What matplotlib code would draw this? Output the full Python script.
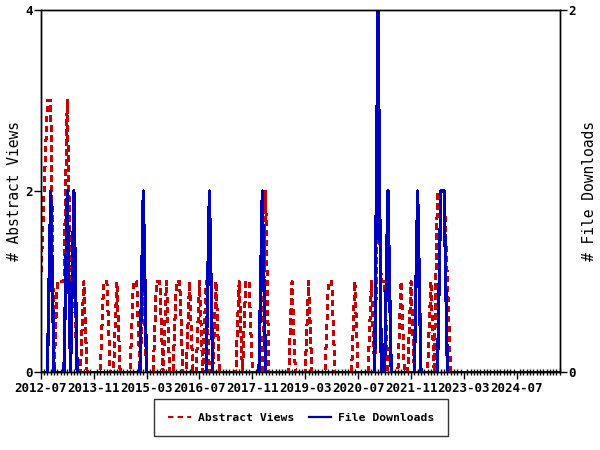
import pandas as pd
import matplotlib
matplotlib.use('Agg')
import matplotlib.pyplot as plt
from matplotlib.ticker import FixedLocator, MultipleLocator

# monthly data, 2012-07 .. 2025-08
months = pd.date_range('2012-07-01', periods=158, freq='MS')

abstract_views = [
    1, 2, 3, 3, 0, 1, 1, 1, 3, 1, 1, 0, 0, 1, 0, 0,
    0, 0, 0, 1, 1, 0, 0, 1, 0, 0, 0, 0, 1, 1, 0, 1,
    0, 0, 0, 1, 1, 0, 1, 0, 0, 1, 1, 0, 0, 1, 0, 0,
    1, 0, 1, 0, 0, 1, 0, 0, 0, 0, 0, 0, 1, 0, 1, 1,
    0, 0, 0, 0, 2, 0, 0, 0, 0, 0, 0, 0, 1, 0, 0, 0,
    0, 1, 0, 0, 0, 0, 0, 1, 1, 0, 0, 0, 0, 0, 0, 1,
    0, 0, 0, 0, 1, 0, 2, 1, 1, 0, 0, 0, 0, 1, 0, 0,
    1, 0, 0, 0, 0, 0, 1, 0, 2, 2, 2, 1, 0, 0, 0, 0,
    0, 0, 0, 0, 0, 0, 0, 0, 0, 0, 0, 0, 0, 0, 0, 0,
    0, 0, 0, 0, 0, 0, 0, 0, 0, 0, 0, 0, 0, 0,
]

file_downloads = [
    0, 0, 0, 1, 0, 0, 0, 0, 1, 0, 1, 0, 0, 0, 0, 0,
    0, 0, 0, 0, 0, 0, 0, 0, 0, 0, 0, 0, 0, 0, 0, 1,
    0, 0, 0, 0, 0, 0, 0, 0, 0, 0, 0, 0, 0, 0, 0, 0,
    0, 0, 0, 1, 0, 0, 0, 0, 0, 0, 0, 0, 0, 0, 0, 0,
    0, 0, 0, 1, 0, 0, 0, 0, 0, 0, 0, 0, 0, 0, 0, 0,
    0, 0, 0, 0, 0, 0, 0, 0, 0, 0, 0, 0, 0, 0, 0, 0,
    0, 0, 0, 0, 0, 0, 2, 0, 0, 1, 0, 0, 0, 0, 0, 0,
    0, 0, 1, 0, 0, 0, 0, 0, 0, 1, 1, 0, 0, 0, 0, 0,
    0, 0, 0, 0, 0, 0, 0, 0, 0, 0, 0, 0, 0, 0, 0, 0,
    0, 0, 0, 0, 0, 0, 0, 0, 0, 0, 0, 0, 0, 0,
]

tick_labels = ['2012-07', '2013-11', '2015-03', '2016-07', '2017-11',
               '2019-03', '2020-07', '2021-11', '2023-03', '2024-07']

red = '#CC0000'
blue = '#0000C0'
mono = 'DejaVu Sans Mono'

x = list(range(len(months)))
tick_pos = [i for i, m in enumerate(months) if m.strftime('%Y-%m') in tick_labels]

fig = plt.figure(figsize=(6, 4.5), dpi=100)
ax = fig.add_axes([0.068, 0.173, 0.865, 0.805])
ax2 = ax.twinx()

l1, = ax.plot(x, abstract_views, color=red, lw=1.5,
              linestyle=(0, (2.6, 2.0)), antialiased=False,
              label='Abstract Views')
l2, = ax2.plot(x, file_downloads, color=blue, lw=1.6,
               antialiased=False, label='File Downloads')

ax.set_xlim(0, len(months) - 1)
ax.set_ylim(0, 4)
ax2.set_ylim(0, 2)

ax.xaxis.set_major_locator(FixedLocator(tick_pos))
ax.set_xticklabels(tick_labels)
ax.xaxis.set_minor_locator(MultipleLocator(1))
ax.set_yticks([0, 2, 4])
ax2.set_yticks([0, 2])

ax.tick_params(axis='x', which='major', direction='out', length=5, width=1, pad=2)
ax.tick_params(axis='x', which='minor', direction='inout', length=4, width=1)
ax.tick_params(axis='y', direction='out', length=5, width=1, pad=1)
ax2.tick_params(axis='y', direction='out', length=5, width=1, pad=1)

for lab in ax.get_xticklabels() + ax.get_yticklabels() + ax2.get_yticklabels():
    lab.set_fontfamily(mono)
    lab.set_fontweight('bold')
    lab.set_fontsize(9)

for a in (ax, ax2):
    for s in a.spines.values():
        s.set_linewidth(1)
        s.set_color('black')

fig.text(0.025, 0.576, '# Abstract Views', rotation=90, ha='center', va='center',
         fontsize=10.5, family=mono)
fig.text(0.983, 0.576, '# File Downloads', rotation=90, ha='center', va='center',
         fontsize=10.5, family=mono)

leg = fig.legend(handles=[l1, l2], loc='center', bbox_to_anchor=(0.502, 0.072),
                 ncol=2, frameon=True, fancybox=False, shadow=False,
                 edgecolor='black', handlelength=2.0, handletextpad=0.6,
                 columnspacing=1.3, borderpad=1.2,
                 prop={'family': mono, 'weight': 'bold', 'size': 8.2})
leg.get_frame().set_linewidth(1)

fig.savefig('out.png', dpi=100)
